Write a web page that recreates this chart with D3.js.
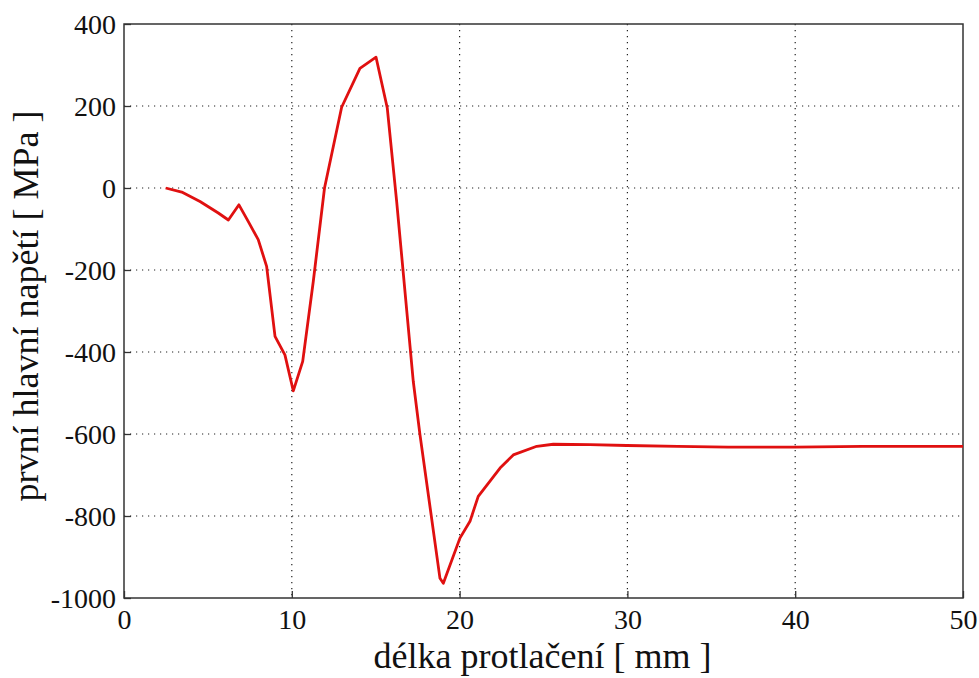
<!DOCTYPE html>
<html>
<head>
<meta charset="utf-8">
<script src="https://cdnjs.cloudflare.com/ajax/libs/d3/7.8.5/d3.min.js"></script>
<style>
  body { margin: 0; background: #fff; }
  svg { display: block; }
  text { font-family: "Liberation Serif", "Times New Roman", serif; fill: #111; }
</style>
</head>
<body>
<svg width="979" height="678"></svg>
<script>
// data: length [mm] vs first principal stress [MPa]
var delka = [2.48, 3.44, 4.53, 5.62, 6.22, 6.85, 7.41, 8.0, 8.5, 9.0, 9.59, 10.09, 10.65, 11.28, 11.95,
  12.97, 14.06, 15.02, 15.69, 16.25, 17.24, 17.64, 18.83, 19.03, 20.02, 20.62, 21.11, 22.41, 23.2,
  24.6, 25.58, 27.77, 29.96, 33.0, 36.0, 40.0, 44.0, 47.0, 50.0];
var napeti = [0, -10, -33, -61, -78, -41, -82, -126, -191, -362, -407, -495, -423, -228, 0,
  197, 292, 319, 195, -33, -472, -602, -952, -964, -854, -813, -752, -683, -651,
  -630, -625, -626, -628, -630, -632, -632, -630, -630, -630];
var xTicks = [0, 10, 20, 30, 40, 50];
var yTicks = [-1000, -800, -600, -400, -200, 0, 200, 400];

var svg = d3.select("svg");
var mLeft = 124, mRight = 963, mTop = 24, mBottom = 598;

var x = d3.scaleLinear().domain([0, 50]).range([mLeft, mRight]);
var y = d3.scaleLinear().domain([-1000, 400]).range([mBottom, mTop]);

// dotted grid
var grid = svg.append("g").attr("class", "grid");
grid.selectAll("line.gx")
  .data(xTicks.slice(1, -1))
  .enter().append("line")
  .attr("x1", d => x(d)).attr("x2", d => x(d))
  .attr("y1", mTop).attr("y2", mBottom)
  .attr("stroke", "#222").attr("stroke-width", 1.2)
  .attr("stroke-dasharray", "1.2,4.8");
grid.selectAll("line.gy")
  .data(yTicks.slice(1, -1))
  .enter().append("line")
  .attr("y1", d => y(d)).attr("y2", d => y(d))
  .attr("x1", mLeft).attr("x2", mRight)
  .attr("stroke", "#222").attr("stroke-width", 1.2)
  .attr("stroke-dasharray", "1.2,4.8");

// axes (ticks inside), plain hyphen for minus like the original
var fmt = d => String(d);
var xAxis = d3.axisBottom(x).tickValues(xTicks).tickSize(-7).tickPadding(11).tickFormat(fmt);
var yAxis = d3.axisLeft(y).tickValues(yTicks).tickSize(-7).tickPadding(8).tickFormat(fmt);

var gx = svg.append("g").attr("transform", "translate(0," + mBottom + ")").call(xAxis);
var gy = svg.append("g").attr("transform", "translate(" + mLeft + ",0)").call(yAxis);
[gx, gy].forEach(function(g) {
  g.select(".domain").remove();
  g.selectAll(".tick line").attr("stroke", "#333").attr("stroke-width", 1.3);
  g.selectAll(".tick text").style("font-size", "28px").attr("fill", "#111");
});
gx.selectAll(".tick text").attr("dy", "0.72em");
gy.selectAll(".tick text").attr("dy", "0.34em");

// frame
svg.append("rect")
  .attr("x", mLeft).attr("y", mTop)
  .attr("width", mRight - mLeft).attr("height", mBottom - mTop)
  .attr("fill", "none").attr("stroke", "#333").attr("stroke-width", 1.5);

// curve
var pts = delka.map((d, i) => [d, napeti[i]]);
svg.append("path")
  .datum(pts)
  .attr("fill", "none")
  .attr("stroke", "#e01010")
  .attr("stroke-width", 2.8)
  .attr("stroke-linejoin", "round")
  .attr("d", d3.line().x(d => x(d[0])).y(d => y(d[1])));

// labels
svg.append("text")
  .attr("x", (mLeft + mRight) / 2 - 1).attr("y", 668)
  .attr("text-anchor", "middle")
  .style("font-size", "36px")
  .text("délka protlačení [ mm ]");

svg.append("text")
  .attr("transform", "translate(38," + ((mTop + mBottom) / 2 - 5) + ") rotate(-90)")
  .attr("text-anchor", "middle")
  .style("font-size", "36px")
  .text("první hlavní napětí [ MPa ]");
</script>
</body>
</html>
